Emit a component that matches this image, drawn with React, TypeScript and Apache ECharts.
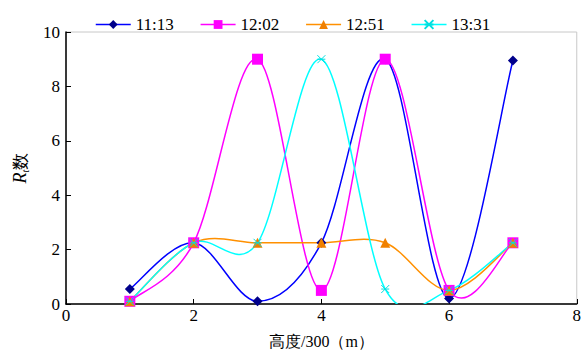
import React, { useEffect, useRef } from 'react';
import * as echarts from 'echarts';

const heights = [1, 2, 3, 4, 5, 6, 7];
const seriesNames = ['11:13', '12:02', '12:51', '13:31'];
const s1113 = [0.55, 2.25, 0.1, 2.25, 9.0, 0.2, 8.95];
const s1202 = [0.1, 2.25, 9.0, 0.5, 9.0, 0.5, 2.25];
const s1251 = [0.1, 2.25, 2.25, 2.25, 2.25, 0.5, 2.25];
const s1331 = [0.1, 2.25, 2.25, 9.0, 0.55, 0.5, 2.25];
const allValues = [s1113, s1202, s1251, s1331];

const lineColors = ['#0000ff', '#ff00ff', '#ff9000', '#00ffff'];
const markerColors = ['#00008b', '#ff00ff', '#f08000', '#00e0e0'];
const symbols = [
  'diamond',
  'rect',
  'triangle',
  'path://M0,0L10,10M0,10L10,0M0,5L10,5',
];
const symbolSizes = [10, 11, 10, 8];

const FONT = 'Liberation Serif';

function smoothPath(pts: number[][]): string {
  const n = pts.length;
  let path = `M${pts[0][0]},${pts[0][1]}`;
  for (let i = 0; i < n - 1; i++) {
    const p0 = pts[Math.max(i - 1, 0)];
    const p1 = pts[i];
    const p2 = pts[i + 1];
    const p3 = pts[Math.min(i + 2, n - 1)];
    const c1x = p1[0] + (p2[0] - p0[0]) / 6;
    const c1y = p1[1] + (p2[1] - p0[1]) / 6;
    const c2x = p2[0] - (p3[0] - p1[0]) / 6;
    const c2y = p2[1] - (p3[1] - p1[1]) / 6;
    path += `C${c1x},${c1y},${c2x},${c2y},${p2[0]},${p2[1]}`;
  }
  return path;
}

export default function App() {
  const ref = useRef<HTMLDivElement>(null);
  useEffect(() => {
    if (!ref.current) return;
    const chart = echarts.init(ref.current, null, { renderer: 'svg' });
    const curves = allValues.map((vals, k) => ({
      type: 'custom',
      name: 'curve' + k,
      coordinateSystem: 'cartesian2d',
      z: 1,
      silent: true,
      clip: true,
      encode: { x: 0, y: 1 },
      data: heights.map((h, i) => [h, vals[i]]),
      renderItem: (params: any, api: any) => {
        if (params.dataIndex !== 0) return null;
        const pts = heights.map((h, i) => api.coord([h, vals[i]]));
        const cs = params.coordSys;
        return {
          type: 'path',
          shape: { pathData: smoothPath(pts) },
          style: { stroke: lineColors[k], lineWidth: 1.5, fill: 'none' },
          clipPath: { type: 'rect', shape: { x: cs.x, y: cs.y, width: cs.width, height: cs.height } },
        };
      },
    }));
    const markers = allValues.map((vals, k) => ({
      type: 'line',
      name: seriesNames[k],
      z: 3 + k,
      data: heights.map((h, i) => [h, vals[i]]),
      symbol: symbols[k],
      symbolSize: symbolSizes[k],
      showSymbol: true,
      lineStyle: { width: 0, color: lineColors[k] },
      color: lineColors[k],
      itemStyle:
        k === 3
          ? { color: markerColors[k], borderColor: markerColors[k], borderWidth: 1 }
          : { color: markerColors[k], borderColor: markerColors[k], borderWidth: 0 },
    }));
    chart.setOption({
      animation: false,
      textStyle: { fontFamily: FONT },
      legend: {
        data: seriesNames,
        left: 90,
        top: 11,
        itemWidth: 35,
        itemHeight: 11,
        itemGap: 26,
        lineStyle: { width: 1.5 },
        textStyle: { fontSize: 17, fontFamily: FONT, color: '#000' },
      },
      grid: {
        left: 66,
        right: 3,
        top: 32,
        bottom: 44,
        show: true,
        borderColor: '#c8c8c8',
        borderWidth: 1,
      },
      xAxis: {
        type: 'value',
        min: 0,
        max: 8,
        interval: 2,
        name: '高度/300（m）',
        nameLocation: 'middle',
        nameGap: 29,
        nameTextStyle: { fontSize: 16, fontFamily: FONT, color: '#000' },
        axisLine: { show: true, lineStyle: { color: '#000', width: 1.5 } },
        axisTick: { show: true, inside: true, length: 5, lineStyle: { color: '#000' } },
        axisLabel: { fontSize: 17, fontFamily: FONT, color: '#000', margin: 3 },
        splitLine: { show: false },
      },
      yAxis: {
        type: 'value',
        min: 0,
        max: 10,
        interval: 2,
        name: '{i|R}{s|t}{c|数}',
        nameLocation: 'middle',
        nameGap: 36,
        nameTextStyle: {
          color: '#000',
          rich: {
            i: { fontStyle: 'italic', fontSize: 18, fontFamily: FONT, color: '#000', lineHeight: 20 },
            s: { fontStyle: 'italic', fontSize: 10, fontFamily: FONT, color: '#000', verticalAlign: 'bottom' },
            c: { fontSize: 17, fontFamily: FONT, color: '#000' },
          },
        },
        axisLine: { show: true, lineStyle: { color: '#000', width: 1.5 } },
        axisTick: { show: true, inside: true, length: 5, lineStyle: { color: '#000' } },
        axisLabel: { fontSize: 17, fontFamily: FONT, color: '#000', margin: 6 },
        splitLine: { show: false },
      },
      series: [...markers, ...curves],
    });
    return () => chart.dispose();
  }, []);
  return <div ref={ref} style={{ width: 584, height: 354, position: 'absolute', left: 0, top: 0 }} />;
}
